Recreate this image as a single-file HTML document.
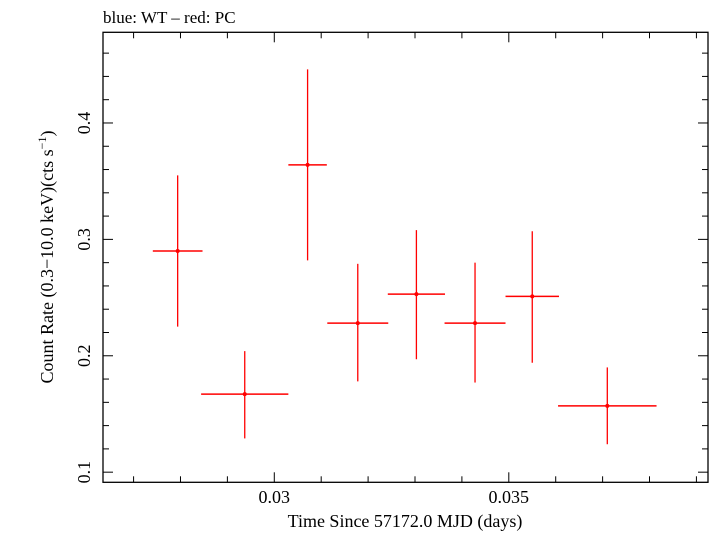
<!DOCTYPE html>
<html><head><meta charset="utf-8"><style>
html,body{margin:0;padding:0;background:#fff;}
svg text{font-family:"Liberation Serif",serif;fill:#000;}
</style></head><body>
<svg id="chart" width="709" height="532" xmlns="http://www.w3.org/2000/svg">
<text x="103" y="23" font-size="17">blue: WT – red: PC</text>
<rect x="103" y="32.3" width="605" height="450" fill="none" stroke="#000" stroke-width="1.3"/>
<g id="ticks"></g>
<g id="marks"></g>
<text x="405" y="527" font-size="18" text-anchor="middle">Time Since 57172.0 MJD (days)</text>
<text transform="translate(53,257) rotate(-90)" font-size="18" text-anchor="middle">Count Rate (0.3−10.0 keV)(cts s<tspan font-size="12" dy="-7">−1</tspan><tspan dy="7">)</tspan></text>
</svg>
<script>
const xCenters=[0.02794,0.02937,0.03071,0.03178,0.03303,0.03428,0.03550,0.03710];
const xHalfWidths=[0.00053,0.00093,0.00041,0.00065,0.00061,0.00065,0.00057,0.00105];
const rates=[0.290,0.167,0.364,0.228,0.253,0.228,0.251,0.157];
const rateLow=[0.225,0.129,0.282,0.178,0.197,0.177,0.194,0.124];
const rateHigh=[0.355,0.204,0.446,0.279,0.308,0.280,0.307,0.190];
const xTickLabels=["0.03","0.035"];
const xTickValues=[0.03,0.035];
const yTickLabels=["0.1","0.2","0.3","0.4"];
const yTickValues=[0.1,0.2,0.3,0.4];

const L=103,R=708,T=32.3,B=482.3;
const x0=0.026348,x1=0.039247,y0=0.0913,y1=0.4779;
const sx=v=>L+(v-x0)/(x1-x0)*(R-L);
const sy=v=>B-(v-y0)/(y1-y0)*(B-T);
const NS="http://www.w3.org/2000/svg";
function mk(tag,attrs,parent){const e=document.createElementNS(NS,tag);for(const k in attrs)e.setAttribute(k,attrs[k]);parent.appendChild(e);return e;}
const tg=document.getElementById('ticks');
for(let i=27;i<=39;i++){const v=i/1000;const X=sx(v);const major=(i%5===0);const len=major?10:6;
 const a=mk('line',{x1:X,x2:X,y1:B,y2:B-len,stroke:'#000','stroke-width':1},tg);
 
 
 const b=mk('line',{x1:X,x2:X,y1:T,y2:T+len,stroke:'#000','stroke-width':1},tg);
 
 }
for(let i=5;i<=23;i++){const v=i*0.02;const Y=sy(v);const major=(i%5===0);const len=major?10:6;
 const a=mk('line',{x1:L,x2:L+len,y1:Y,y2:Y,stroke:'#000','stroke-width':1},tg);
 
 
 const b=mk('line',{x1:R,x2:R-len,y1:Y,y2:Y,stroke:'#000','stroke-width':1},tg);
 
 }
xTickLabels.forEach((t,i)=>{const e=mk('text',{x:sx(xTickValues[i]),y:503,'font-size':18,'text-anchor':'middle'},tg);e.textContent=t;
 
 });
yTickLabels.forEach((t,i)=>{const Y=sy(yTickValues[i]);const e=mk('text',{transform:`translate(90,${Y}) rotate(-90)`,'font-size':18,'text-anchor':'middle'},tg);e.textContent=t;
 
 });
const mg=document.getElementById('marks');
rates.forEach((r,i)=>{const g=mk('g',{},mg);
 
 
 const X=sx(xCenters[i]),Y=sy(r);
 mk('line',{x1:sx(xCenters[i]-xHalfWidths[i]),x2:sx(xCenters[i]+xHalfWidths[i]),y1:Y,y2:Y,stroke:'#f00','stroke-width':1.5},g);
 mk('line',{x1:X,x2:X,y1:sy(rateLow[i]),y2:sy(rateHigh[i]),stroke:'#f00','stroke-width':1.3},g);
 mk('circle',{cx:X,cy:Y,r:2,fill:'#f00'},g);});
</script>
</body></html>
